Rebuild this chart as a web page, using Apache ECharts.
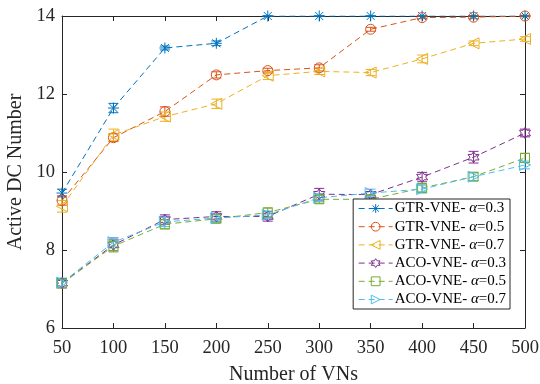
<!DOCTYPE html>
<html>
<head>
<meta charset="utf-8">
<script src="https://cdn.jsdelivr.net/npm/echarts@6/dist/echarts.min.js"></script>
<style>
  html, body { margin: 0; padding: 0; background: #fff; }
  #chart { width: 540px; height: 384px; }
</style>
</head>
<body>
<div id="chart"></div>
<script>
  // number of VNs
  const xValues = [50, 100, 150, 200, 250, 300, 350, 400, 450, 500];

  const gtr03 = [9.46, 11.64, 13.18, 13.3, 14, 14, 14, 14, 14, 14];
  const gtr05 = [9.27, 10.88, 11.55, 12.49, 12.6, 12.67, 13.66, 13.96, 13.97, 14];
  const gtr07 = [9.12, 10.95, 11.42, 11.75, 12.47, 12.58, 12.55, 12.9, 13.3, 13.41];
  const aco03 = [7.15, 8.13, 8.78, 8.86, 8.86, 9.43, 9.42, 9.87, 10.38, 11.0];
  const aco05 = [7.14, 8.1, 8.66, 8.8, 8.96, 9.3, 9.3, 9.59, 9.88, 10.36];
  const aco07 = [7.16, 8.2, 8.72, 8.82, 8.9, 9.34, 9.46, 9.56, 9.88, 10.18];

  const gtr03Err = [0.1, 0.12, 0.05, 0.06, 0, 0, 0, 0, 0, 0];
  const gtr05Err = [0.12, 0.1, 0.12, 0.08, 0.06, 0.08, 0.05, 0.03, 0.04, 0.02];
  const gtr07Err = [0.15, 0.15, 0.12, 0.12, 0.1, 0.08, 0.08, 0.1, 0.06, 0.06];
  const aco03Err = [0.12, 0.15, 0.12, 0.12, 0.12, 0.15, 0.08, 0.12, 0.15, 0.1];
  const aco05Err = [0.1, 0.15, 0.12, 0.1, 0.12, 0.1, 0.1, 0.1, 0.1, 0.12];
  const aco07Err = [0.12, 0.12, 0.12, 0.1, 0.1, 0.1, 0.1, 0.1, 0.1, 0.1];

  const xTicks = [50, 500, 50];
  const yTicks = [6, 14, 2];

  const font = '"Liberation Serif", "DejaVu Serif", serif';
  const axisColor = '#262626';

  const lines = [
    { name: 'GTR-VNE- {i|α}=0.3', data: gtr03, err: gtr03Err, color: '#0072BD',
      symbol: 'path://M0,-5L0,5M-5,0L5,0M-3.6,-3.6L3.6,3.6M-3.6,3.6L3.6,-3.6' },
    { name: 'GTR-VNE- {i|α}=0.5', data: gtr05, err: gtr05Err, color: '#D95319', symbol: 'circle' },
    { name: 'GTR-VNE- {i|α}=0.7', data: gtr07, err: gtr07Err, color: '#EDB120',
      symbol: 'path://M-5,0L5,-5.5L5,5.5Z' },
    { name: 'ACO-VNE- {i|α}=0.3', data: aco03, err: aco03Err, color: '#7E2F8E',
      symbol: 'path://M0,-6L1.73,-3L5.2,-3L3.46,0L5.2,3L1.73,3L0,6L-1.73,3L-5.2,3L-3.46,0L-5.2,-3L-1.73,-3Z' },
    { name: 'ACO-VNE- {i|α}=0.5', data: aco05, err: aco05Err, color: '#77AC30', symbol: 'rect' },
    { name: 'ACO-VNE- {i|α}=0.7', data: aco07, err: aco07Err, color: '#4DBEEE',
      symbol: 'path://M5,0L-5,-5.5L-5,5.5Z' }
  ];

  const series = [];
  lines.forEach(function (s) {
    series.push({
      name: s.name,
      type: 'line',
      data: xValues.map((x, i) => [x, s.data[i]]),
      symbol: s.symbol,
      symbolSize: s.symbol === 'circle' ? 10 : (s.symbol === 'rect' ? 9 : 11),
      lineStyle: { color: s.color, width: 1, type: [6, 4] },
      itemStyle: { color: 'rgba(0,0,0,0)', borderColor: s.color, borderWidth: 1 },
      z: 3
    });
    series.push({
      type: 'custom',
      data: xValues.map((x, i) => [x, s.data[i] - s.err[i], s.data[i] + s.err[i]]),
      renderItem: function (params, api) {
        const lo = api.coord([api.value(0), api.value(1)]);
        const hi = api.coord([api.value(0), api.value(2)]);
        const w = 5;
        const style = { stroke: s.color, lineWidth: 1 };
        return {
          type: 'group',
          children: [
            { type: 'line', shape: { x1: lo[0], y1: lo[1], x2: hi[0], y2: hi[1] }, style: style },
            { type: 'line', shape: { x1: lo[0] - w, y1: lo[1], x2: lo[0] + w, y2: lo[1] }, style: style },
            { type: 'line', shape: { x1: hi[0] - w, y1: hi[1], x2: hi[0] + w, y2: hi[1] }, style: style }
          ]
        };
      },
      z: 2,
      silent: true
    });
  });

  const chart = echarts.init(document.getElementById('chart'));
  const tickStyle = { show: true, inside: true, length: 5, lineStyle: { color: axisColor } };
  const lineStyle = { show: true, lineStyle: { color: axisColor, width: 1 } };

  chart.setOption({
    animation: false,
    backgroundColor: '#fff',
    textStyle: { fontFamily: font },
    grid: { left: 62, right: 15, top: 16, bottom: 56, outerBoundsMode: 'none', containLabel: false },
    legend: {
      data: lines.map(s => s.name),
      orient: 'vertical',
      right: 30,
      top: 199,
      itemWidth: 34,
      itemHeight: 11,
      itemGap: 3.2,
      padding: [2, 4, 2, 5],
      borderColor: '#262626',
      borderWidth: 1,
      backgroundColor: '#fff',
      itemStyle: { borderWidth: 1 },
      lineStyle: { width: 1 },
      textStyle: {
        fontFamily: font, fontSize: 15, color: '#000', padding: [0, 0, 0, -3],
        rich: { i: { fontFamily: font, fontStyle: 'italic', fontSize: 15 } }
      }
    },
    xAxis: [{
      type: 'value', min: xTicks[0], max: xTicks[1], interval: xTicks[2],
      name: 'Number of VNs', nameLocation: 'middle', nameGap: 37,
      nameTextStyle: { fontFamily: font, fontSize: 20, color: '#262626' },
      axisLine: lineStyle, axisTick: tickStyle, splitLine: { show: false },
      axisLabel: { fontFamily: font, fontSize: 18.5, color: '#262626', margin: 11 }
    }, {
      type: 'value', position: 'top', min: xTicks[0], max: xTicks[1], interval: xTicks[2],
      axisLine: lineStyle, axisTick: tickStyle, splitLine: { show: false }, axisLabel: { show: false }
    }],
    yAxis: [{
      type: 'value', min: yTicks[0], max: yTicks[1], interval: yTicks[2],
      name: 'Active DC Number', nameLocation: 'middle', nameGap: 31,
      nameTextStyle: { fontFamily: font, fontSize: 20, color: '#262626' },
      axisLine: lineStyle, axisTick: tickStyle, splitLine: { show: false },
      axisLabel: { fontFamily: font, fontSize: 18.5, color: '#262626', margin: 7 }
    }, {
      type: 'value', position: 'right', min: yTicks[0], max: yTicks[1], interval: yTicks[2],
      axisLine: lineStyle, axisTick: tickStyle, splitLine: { show: false }, axisLabel: { show: false }
    }],
    series: series
  });
</script>
</body>
</html>
